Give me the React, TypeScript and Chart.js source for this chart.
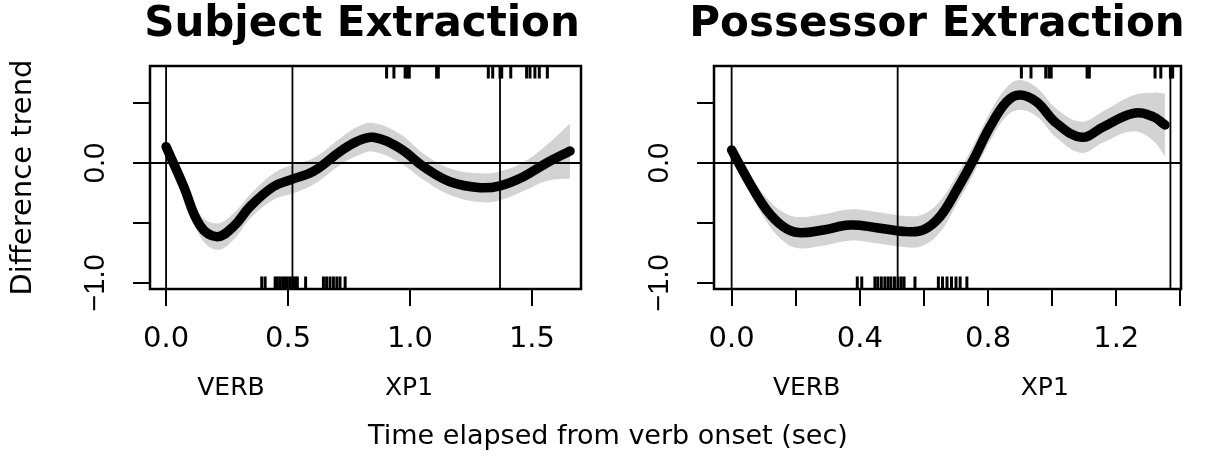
import React, { useEffect, useRef } from "react";
import { Chart, registerables } from "chart.js";

Chart.register(...registerables);

const FONT = "'DejaVu Sans', 'Liberation Sans', sans-serif";
const VFONT = "'Liberation Sans', Arial, sans-serif";

// ---- Subject Extraction (left panel) ----
const SUBJ_X = [0.0, 0.071, 0.139, 0.208, 0.276, 0.344, 0.44, 0.518, 0.604, 0.713, 0.781, 0.85, 0.959, 1.055, 1.164, 1.287, 1.369, 1.465, 1.56, 1.656];
const SUBJ_Y = [0.136, -0.19, -0.52, -0.614, -0.53, -0.364, -0.197, -0.135, -0.07, 0.094, 0.178, 0.214, 0.122, -0.03, -0.156, -0.206, -0.19, -0.114, 0.0, 0.1];
const SUBJ_HW = [0.04, 0.06, 0.09, 0.11, 0.11, 0.1, 0.11, 0.12, 0.11, 0.11, 0.12, 0.12, 0.12, 0.11, 0.11, 0.12, 0.12, 0.12, 0.15, 0.23];

// ---- Possessor Extraction (right panel) ----
const POSS_X = [0.0, 0.057, 0.109, 0.161, 0.208, 0.286, 0.369, 0.452, 0.546, 0.598, 0.65, 0.702, 0.754, 0.806, 0.858, 0.899, 0.951, 1.014, 1.092, 1.159, 1.253, 1.315, 1.352];
const POSS_Y = [0.108, -0.17, -0.39, -0.53, -0.58, -0.558, -0.517, -0.539, -0.572, -0.558, -0.447, -0.225, 0.025, 0.3, 0.51, 0.567, 0.51, 0.33, 0.214, 0.3, 0.414, 0.386, 0.317];
const POSS_HW = [0.04, 0.07, 0.1, 0.12, 0.13, 0.13, 0.13, 0.13, 0.13, 0.13, 0.13, 0.12, 0.12, 0.12, 0.12, 0.125, 0.12, 0.12, 0.13, 0.13, 0.15, 0.2, 0.26];

// ---- rugs (shared by both panels) ----
const RUG_TOP = [0.904, 0.934, 0.98, 0.99, 0.997, 1.109, 1.116, 1.321, 1.339, 1.369, 1.376, 1.413, 1.478, 1.492, 1.512, 1.53, 1.563];
const RUG_BOTTOM = [0.392, 0.406, 0.447, 0.456, 0.467, 0.478, 0.488, 0.497, 0.508, 0.519, 0.529, 0.538, 0.572, 0.645, 0.658, 0.672, 0.686, 0.7, 0.713, 0.734];

// ---- region boundaries and labels ----
const REGION_BOUNDS = [0, 0.518, 1.369];
const REGION_LABELS = ["VERB", "XP1"];
const SUBJ_LABEL_X = [0.266, 0.996];
const POSS_LABEL_X = [0.234, 0.977];

// ---- axes ----
const Y_TICKS = [-1, -0.5, 0, 0.5];
const Y_LABELS = ["\u22121.0", "", "0.0", ""];
const SUBJ_X_TICKS = [0, 0.5, 1.0, 1.5];
const SUBJ_X_LABELS = ["0.0", "0.5", "1.0", "1.5"];
const POSS_X_TICKS = [0, 0.2, 0.4, 0.6, 0.8, 1.0, 1.2, 1.4];
const POSS_X_LABELS = ["0.0", "", "0.4", "", "0.8", "", "1.2", ""];

const Y_MIN = -1.05;
const Y_MAX = 0.808;
const RUG_HALF = 0.05;

type Panel = {
  title: string;
  xs: number[];
  ys: number[];
  hw: number[];
  xMin: number;
  xMax: number;
  xTicks: number[];
  xLabels: string[];
  labelX: number[];
  yTitle: boolean;
  axisLeft: number;
  axisRight: number;
};

const SUBJ: Panel = {
  title: "Subject Extraction",
  xs: SUBJ_X, ys: SUBJ_Y, hw: SUBJ_HW,
  xMin: -0.066, xMax: 1.701,
  xTicks: SUBJ_X_TICKS, xLabels: SUBJ_X_LABELS,
  labelX: SUBJ_LABEL_X, yTitle: true,
  axisLeft: 150, axisRight: 143,
};

const POSS: Panel = {
  title: "Possessor Extraction",
  xs: POSS_X, ys: POSS_Y, hw: POSS_HW,
  xMin: -0.055, xMax: 1.402,
  xTicks: POSS_X_TICKS, xLabels: POSS_X_LABELS,
  labelX: POSS_LABEL_X, yTitle: false,
  axisLeft: 114, axisRight: 93,
};

function measure(text: string, font: string): number {
  const c = document.createElement("canvas");
  const ctx = c.getContext("2d")!;
  ctx.font = font;
  return ctx.measureText(text).width;
}

function makeConfig(p: Panel): any {
  const pts = (xs: number[], ys: number[]) => xs.map((x, i) => ({ x, y: ys[i] }));
  const curveCommon = { pointRadius: 0, tension: 0.4, xAxisID: "x", yAxisID: "y" };
  const datasets: any[] = [
    { ...curveCommon, label: "trend", data: pts(p.xs, p.ys), borderColor: "#000", borderWidth: 9.5, borderCapStyle: "round", borderJoinStyle: "round", fill: false, order: 0 },
    { ...curveCommon, label: "upper", data: p.xs.map((x, i) => ({ x, y: p.ys[i] + p.hw[i] })), borderColor: "rgba(0,0,0,0)", borderWidth: 1, fill: false, order: 3 },
    { ...curveCommon, label: "lower", data: p.xs.map((x, i) => ({ x, y: p.ys[i] - p.hw[i] })), borderColor: "rgba(0,0,0,0)", borderWidth: 1, fill: 1, backgroundColor: "#d3d3d3", order: 3 },
    { label: "zero", data: [{ x: p.xMin, y: 0 }, { x: p.xMax, y: 0 }], borderColor: "#000", borderWidth: 1.8, pointRadius: 0, fill: false, order: 2, xAxisID: "x", yAxisID: "y" },
    ...REGION_BOUNDS.map((b) => ({ label: "bound", data: [{ x: b, y: Y_MIN }, { x: b, y: Y_MAX }], borderColor: "#000", borderWidth: 1.8, pointRadius: 0, fill: false, order: 2, xAxisID: "x", yAxisID: "y" })),
    { label: "rugTop", data: RUG_TOP.filter((x) => x <= p.xMax).map((x) => ({ x, y: Y_MAX - RUG_HALF })), showLine: false, pointStyle: "line", pointRotation: 90, pointRadius: 6.5, pointBorderWidth: 3, pointBorderColor: "#000", borderColor: "#000", order: 1, xAxisID: "x", yAxisID: "y" },
    { label: "rugBottom", data: RUG_BOTTOM.filter((x) => x <= p.xMax).map((x) => ({ x, y: Y_MIN + RUG_HALF })), showLine: false, pointStyle: "line", pointRotation: 90, pointRadius: 6.5, pointBorderWidth: 3, pointBorderColor: "#000", borderColor: "#000", order: 1, xAxisID: "x", yAxisID: "y" },
  ];

  const yFontSize = 29;
  const widest = measure("\u22121.0", `${yFontSize}px ${VFONT}`);
  const yPad = 150 - 17 - 96 - widest / 2;

  const tickGrid = { display: true, drawOnChartArea: false, drawTicks: true, tickLength: 17, color: "#000", lineWidth: 2 };

  const framePlugin = {
    id: "frame",
    afterDatasetsDraw(chart: any) {
      const { ctx, chartArea: a } = chart;
      ctx.save();
      ctx.strokeStyle = "#000";
      ctx.lineWidth = 2.5;
      ctx.strokeRect(a.left, a.top, a.right - a.left, a.bottom - a.top);
      ctx.restore();
    },
  };

  const regionPlugin = {
    id: "regions",
    afterDraw(chart: any) {
      const { ctx } = chart;
      const xs = chart.scales.x;
      ctx.save();
      ctx.fillStyle = "#000";
      ctx.font = `25px ${FONT}`;
      ctx.textAlign = "center";
      ctx.textBaseline = "alphabetic";
      REGION_LABELS.forEach((lab, i) => {
        ctx.fillText(lab, xs.getPixelForValue(p.labelX[i]), 395);
      });
      ctx.restore();
    },
  };

  return {
    type: "line",
    data: { datasets },
    plugins: [framePlugin, regionPlugin],
    options: {
      animation: false,
      responsive: false,
      maintainAspectRatio: false,
      devicePixelRatio: 1,
      events: [],
      layout: { padding: 0 },
      plugins: {
        legend: { display: false },
        tooltip: { enabled: false },
        title: {
          display: true,
          text: p.title,
          color: "#000",
          font: { family: FONT, size: 42, weight: "bold", lineHeight: 1 },
          padding: { top: 4, bottom: 20 },
        },
      },
      scales: {
        x: {
          type: "linear",
          position: "bottom",
          min: p.xMin,
          max: p.xMax,
          afterBuildTicks: (s: any) => { s.ticks = p.xTicks.map((v) => ({ value: v })); },
          afterFit: (s: any) => { s.height = 170; },
          ticks: {
            autoSkip: false,
            maxRotation: 0,
            minRotation: 0,
            padding: 16,
            color: "#000",
            font: { family: FONT, size: 29, lineHeight: 1.2 },
            callback: (_v: any, i: number) => p.xLabels[i],
          },
          grid: tickGrid,
          border: { display: false },
        },
        y: {
          type: "linear",
          position: "left",
          min: Y_MIN,
          max: Y_MAX,
          afterBuildTicks: (s: any) => { s.ticks = Y_TICKS.map((v) => ({ value: v })); },
          afterFit: (s: any) => { s.width = p.axisLeft; },
          ticks: {
            autoSkip: false,
            minRotation: 90,
            maxRotation: 90,
            crossAlign: "center",
            padding: yPad,
            color: "#000",
            font: { family: VFONT, size: yFontSize, lineHeight: 1.2 },
            callback: (_v: any, i: number) => Y_LABELS[i],
          },
          grid: tickGrid,
          border: { display: false },
          title: {
            display: p.yTitle,
            text: "Difference trend",
            color: "#000",
            font: { family: FONT, size: 29, lineHeight: 1.2 },
            padding: { top: 6, bottom: 0 },
          },
        },
        yR: {
          type: "linear",
          position: "right",
          display: true,
          afterFit: (s: any) => { s.width = p.axisRight; },
          ticks: { display: false },
          grid: { display: false },
          border: { display: false },
        },
      },
    },
  };
}

export default function App() {
  const leftRef = useRef<HTMLCanvasElement | null>(null);
  const rightRef = useRef<HTMLCanvasElement | null>(null);

  useEffect(() => {
    const c1 = new Chart(leftRef.current!, makeConfig(SUBJ));
    const c2 = new Chart(rightRef.current!, makeConfig(POSS));
    return () => {
      c1.destroy();
      c2.destroy();
    };
  }, []);

  return (
    <div style={{ position: "fixed", left: 0, top: 0, width: 1216, height: 459, overflow: "hidden", background: "#fff" }}>
      <canvas ref={leftRef} width={724} height={459} style={{ position: "absolute", left: 0, top: 0, width: 724, height: 459 }} />
      <canvas ref={rightRef} width={674} height={459} style={{ position: "absolute", left: 600, top: 0, width: 674, height: 459 }} />
      <div
        style={{
          position: "absolute",
          left: 0,
          top: 421,
          width: 1216,
          textAlign: "center",
          fontFamily: FONT,
          fontSize: 27,
          lineHeight: "27px",
          color: "#000",
          whiteSpace: "nowrap",
        }}
      >
        Time elapsed from verb onset (sec)
      </div>
    </div>
  );
}
